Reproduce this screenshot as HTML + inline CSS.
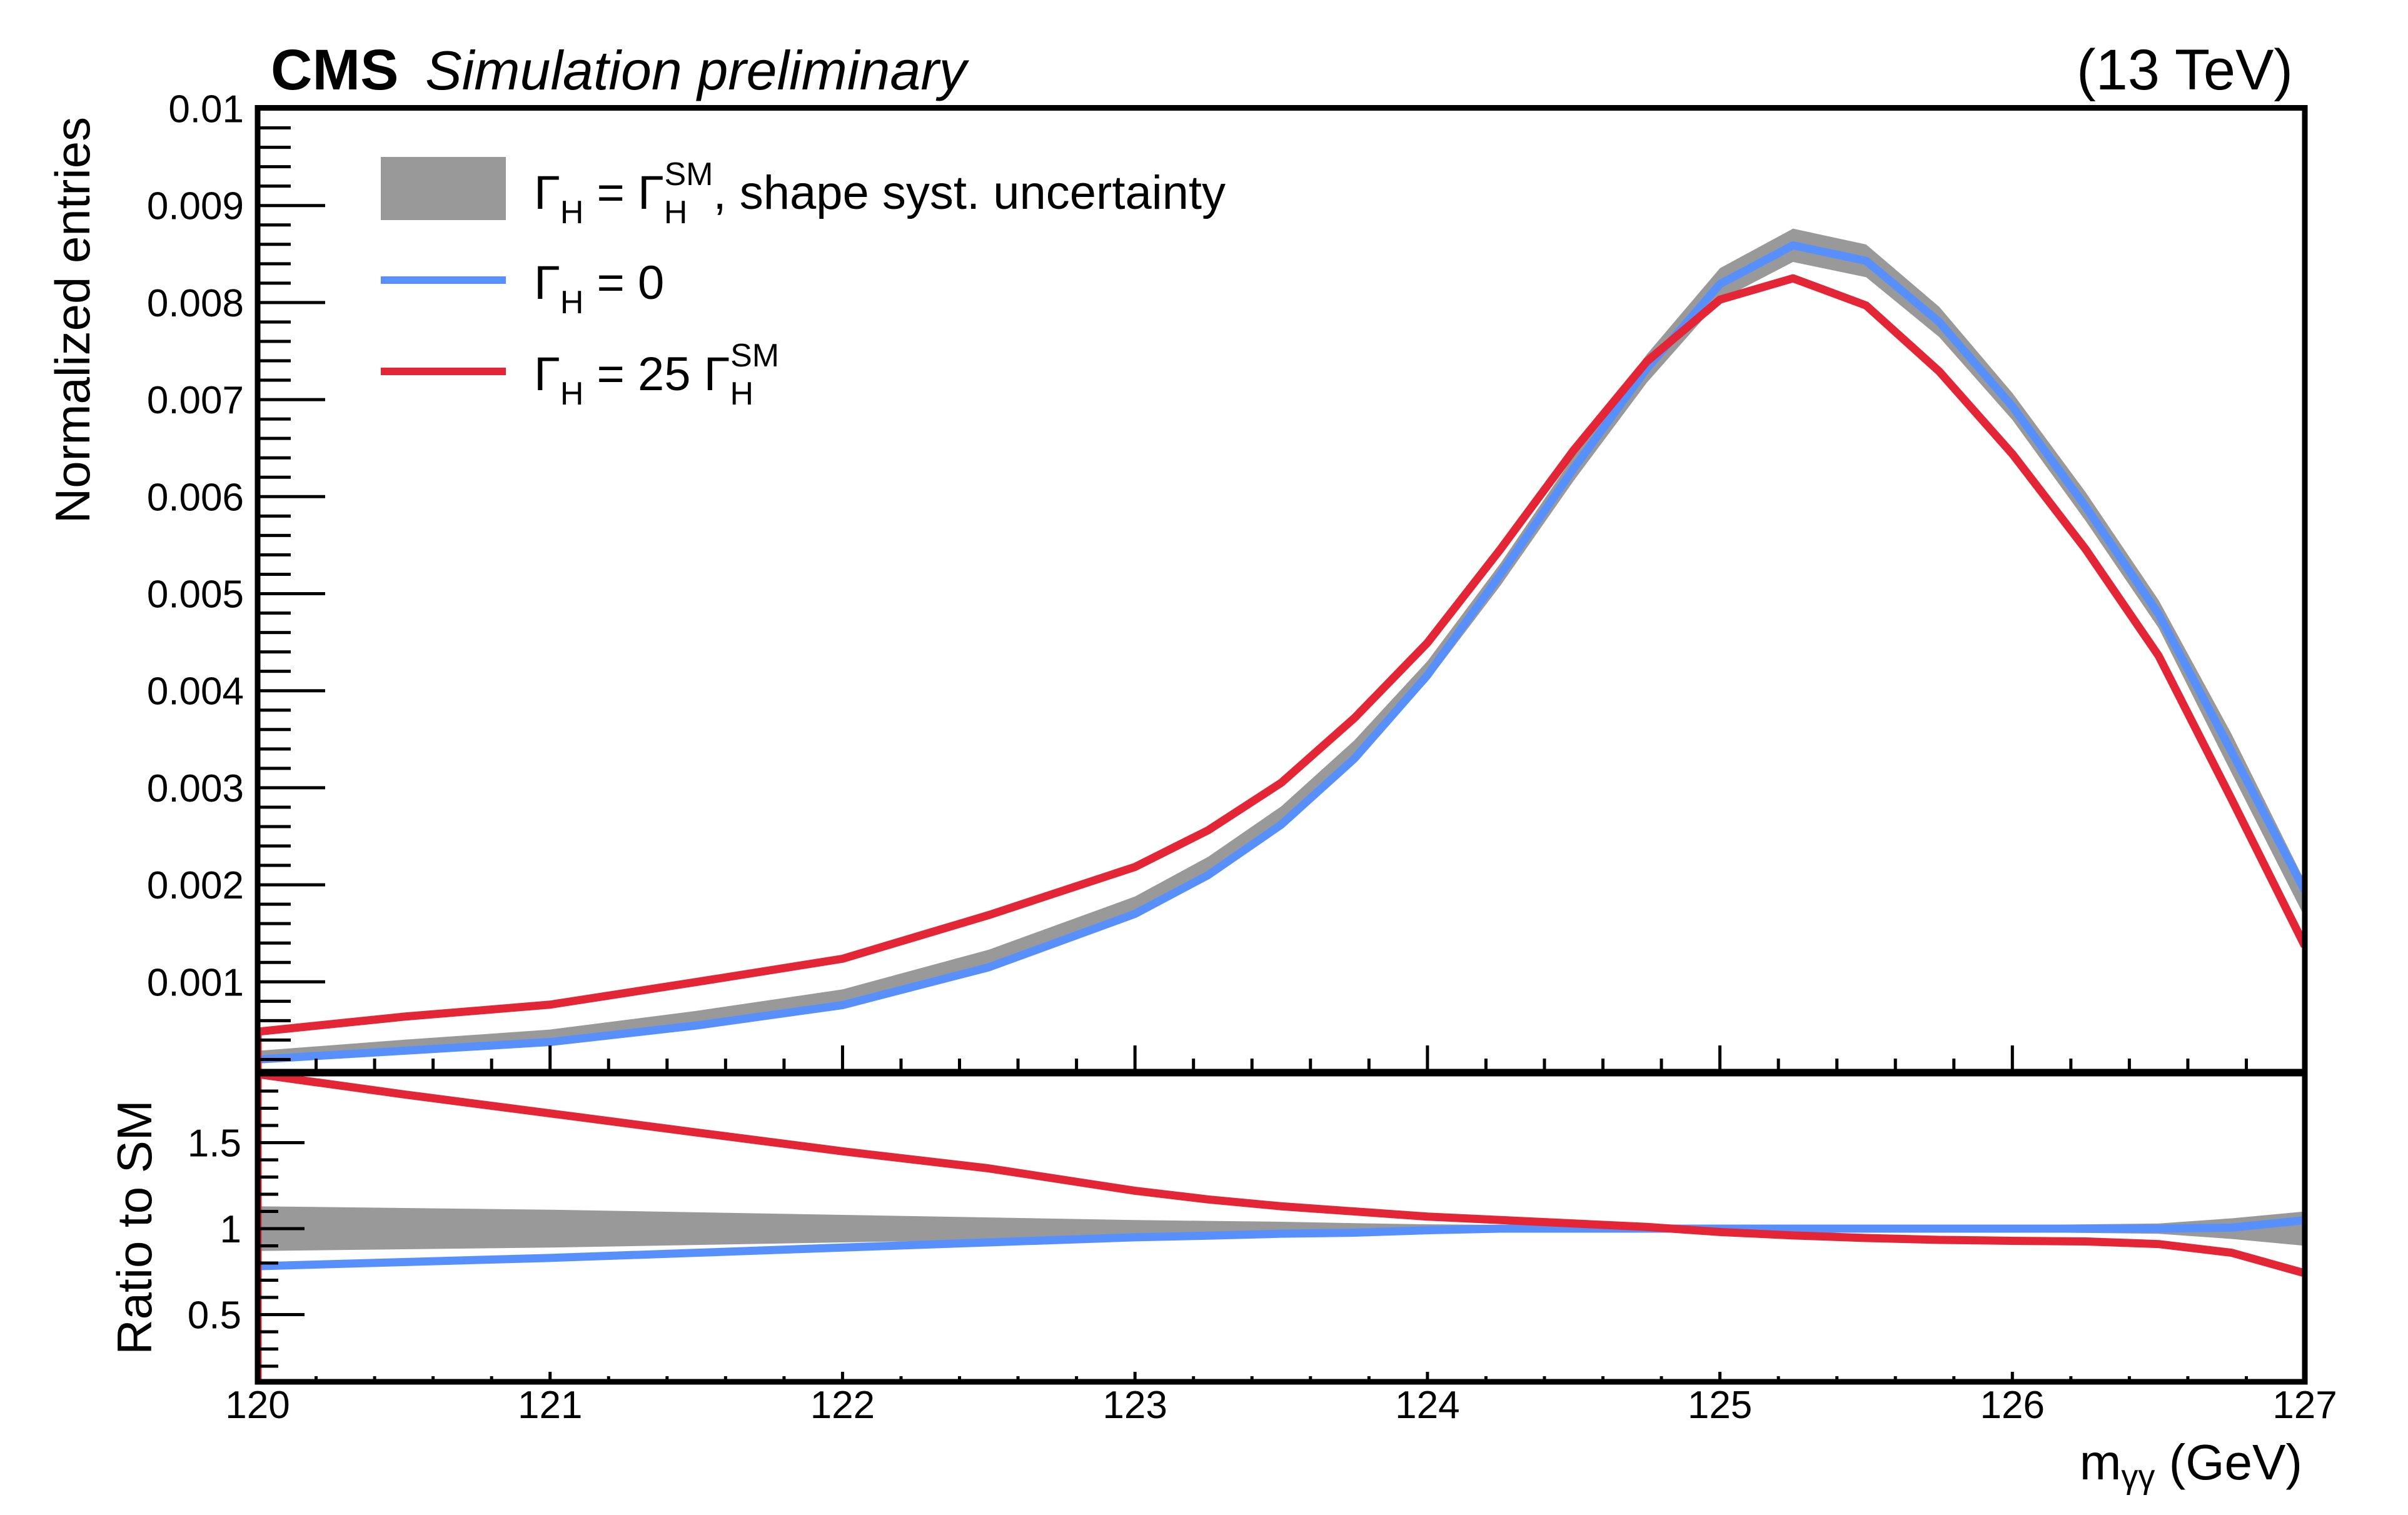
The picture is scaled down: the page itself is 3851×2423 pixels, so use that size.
<!DOCTYPE html>
<html><head><meta charset="utf-8"><style>
html,body{margin:0;padding:0;background:#fff;}
svg{display:block;font-family:"Liberation Sans",Arial,sans-serif;}
</style></head><body>
<svg id="chart" width="3851" height="2423" viewBox="0 0 3851 2423" xmlns="http://www.w3.org/2000/svg">
<rect width="3851" height="2423" fill="#fff"/>
<g id="mainMarks"></g>
<g id="ratioMarks"></g>
<g id="axes"></g>
<text x="433" y="143" font-size="92" font-weight="bold">CMS</text>
<text x="680" y="143" font-size="88" font-style="italic">Simulation preliminary</text>
<text x="3667" y="143" font-size="92" text-anchor="end">(13 TeV)</text>
<text transform="translate(143,512) rotate(-90)" font-size="78" text-anchor="middle">Normalized entries</text>
<text transform="translate(242,1963) rotate(-90)" font-size="78" text-anchor="middle">Ratio to SM</text>
<text x="3682" y="2366" font-size="80" text-anchor="end">m<tspan font-size="54" dy="14">γγ</tspan><tspan dy="-14"> (GeV)</tspan></text>
<g>
<rect x="609" y="251" width="200" height="101" fill="#999"/>
<text x="854" y="334" font-size="76">Γ<tspan font-size="52" dy="23">H</tspan><tspan dy="-23"> = Γ</tspan><tspan font-size="52" dy="23">H</tspan><tspan font-size="52" dx="-37" dy="-61">SM</tspan><tspan dy="38">, shape syst. uncertainty</tspan></text>
<line x1="609" y1="448" x2="809" y2="448" stroke="#5790fc" stroke-width="12"/>
<text x="854" y="478" font-size="76">Γ<tspan font-size="52" dy="23">H</tspan><tspan dy="-23"> = 0</tspan></text>
<line x1="609" y1="594" x2="809" y2="594" stroke="#e42536" stroke-width="12"/>
<text x="854" y="624" font-size="76">Γ<tspan font-size="52" dy="23">H</tspan><tspan dy="-23"> = 25 Γ</tspan><tspan font-size="52" dy="23">H</tspan><tspan font-size="52" dx="-37" dy="-61">SM</tspan></text>
</g>
</svg>
<script>
const masses = [120,120.5,121,121.5,122,122.5,123,123.25,123.5,123.75,124,124.25,124.5,124.75,125,125.25,125.5,125.75,126,126.25,126.5,126.75,127];
const smValues = [0.000256,0.00036,0.000458,0.00064,0.000854,0.00125,0.00179,0.00219,0.0027,0.00338,0.0042,0.0052,0.00629,0.00732,0.00819,0.00859,0.00843,0.0078,0.00693,0.0059,0.00479,0.00335,0.00185];
const bandRel = [0.13,0.12,0.11,0.095,0.08,0.065,0.05,0.045,0.04,0.032,0.025,0.022,0.02,0.02,0.02,0.02,0.02,0.02,0.02,0.025,0.03,0.06,0.1];
const zeroWidthValues = [0.0002,0.00029,0.00038,0.00055,0.00076,0.00115,0.0017,0.0021,0.00262,0.0033,0.00416,0.0052,0.00629,0.00732,0.00819,0.00859,0.00843,0.0078,0.00693,0.0059,0.00479,0.00337,0.00194];
const wideValues = [0.000486,0.000641,0.000765,0.000998,0.001238,0.001688,0.002184,0.002562,0.003051,0.003718,0.004494,0.00546,0.006479,0.007393,0.00803,0.00825,0.00797,0.00729,0.00644,0.00546,0.00436,0.00288,0.00137];
const mainTicks = [0.001,0.002,0.003,0.004,0.005,0.006,0.007,0.008,0.009,0.01];
const mainTickLabels = ["0.001","0.002","0.003","0.004","0.005","0.006","0.007","0.008","0.009","0.01"];
const ratioTicks = [0.5,1,1.5];
const ratioTickLabels = ["0.5","1","1.5"];
const xTicks = [120,121,122,123,124,125,126,127];

const NS="http://www.w3.org/2000/svg";
const X0=412,X1=3686,xmin=120,xmax=127;
const xs=m=>X0+(m-xmin)/(xmax-xmin)*(X1-X0);
const MT=172.5,MB=1714;
const ym=v=>1725.5-v/0.001*155.2;
const RT=1717,RB=2210;
const yr=r=>1965-(r-1)*275;
function mk(tag,attrs,parent){const e=document.createElementNS(NS,tag);for(const k in attrs)e.setAttribute(k,attrs[k]);parent.appendChild(e);return e;}
const mainG=document.getElementById('mainMarks');
const ratioG=document.getElementById('ratioMarks');
const axG=document.getElementById('axes');
function clip(id,y0,y1){const d=mk('clipPath',{id:id},document.getElementById('chart'));mk('rect',{x:X0,y:y0,width:X1-X0,height:y1-y0},d);}
clip('cm',MT,MB);clip('cr',RT,RB);
mainG.setAttribute('clip-path','url(#cm)');ratioG.setAttribute('clip-path','url(#cr)');
let up=masses.map((m,i)=>xs(m)+','+ym(smValues[i]*(1+bandRel[i])));
let lo=masses.map((m,i)=>xs(m)+','+ym(smValues[i]*(1-bandRel[i]))).reverse();
const band=mk('polygon',{points:up.concat(lo).join(' '),fill:'#999'},mainG);


const blue=mk('polyline',{points:masses.map((m,i)=>xs(m)+','+ym(zeroWidthValues[i])).join(' '),fill:'none',stroke:'#5790fc','stroke-width':13,'stroke-linejoin':'round'},mainG);


const red=mk('polyline',{points:[xs(xmin)+','+MB].concat(masses.map((m,i)=>xs(m)+','+ym(wideValues[i]))).join(' '),fill:'none',stroke:'#e42536','stroke-width':13,'stroke-linejoin':'round'},mainG);


up=masses.map((m,i)=>xs(m)+','+yr(1+bandRel[i]));
lo=masses.map((m,i)=>xs(m)+','+yr(1-bandRel[i])).reverse();
const rband=mk('polygon',{points:up.concat(lo).join(' '),fill:'#999'},ratioG);


const rblue=mk('polyline',{points:masses.map((m,i)=>xs(m)+','+yr(zeroWidthValues[i]/smValues[i])).join(' '),fill:'none',stroke:'#5790fc','stroke-width':13,'stroke-linejoin':'round'},ratioG);


const rred=mk('polyline',{points:[xs(xmin)+','+RB].concat(masses.map((m,i)=>xs(m)+','+yr(wideValues[i]/smValues[i]))).join(' '),fill:'none',stroke:'#e42536','stroke-width':13,'stroke-linejoin':'round'},ratioG);


const f1=mk('rect',{x:X0,y:MT,width:X1-X0,height:MB-MT,fill:'none',stroke:'#000','stroke-width':9},axG);


const f2=mk('rect',{x:X0,y:RT,width:X1-X0,height:RB-RT,fill:'none',stroke:'#000','stroke-width':9},axG);


for(let k=1;k<=50;k++){const v=k*0.0002;const y=ym(v);if(y<MT||y>MB)continue;const major=(k%5===0);
 const t=mk('line',{x1:X0,x2:X0+(major?108:53),y1:y,y2:y,stroke:'#000','stroke-width':5},axG);
 
 }
mainTicks.forEach((v,i)=>{const t=mk('text',{x:390,y:ym(v)+22,'font-size':62,'text-anchor':'end'},axG);t.textContent=mainTickLabels[i];
 
 });
for(let k=2;k<=18;k++){const v=k*0.1;const major=(k%5===0);
 const t=mk('line',{x1:X0,x2:X0+(major?75:33),y1:yr(v),y2:yr(v),stroke:'#000','stroke-width':5},axG);
 
 }
ratioTicks.forEach((v,i)=>{const t=mk('text',{x:386,y:yr(v)+22,'font-size':62,'text-anchor':'end'},axG);t.textContent=ratioTickLabels[i];
 
 });
for(let k=0;k<=35;k++){const m=120+k*0.2;const x=xs(m);const major=(k%5===0);
 const a=mk('line',{x1:x,x2:x,y1:MB,y2:MB-(major?42:21),stroke:'#000','stroke-width':5},axG);
 
 
 const b=mk('line',{x1:x,x2:x,y1:RB,y2:RB-(major?16:9),stroke:'#000','stroke-width':5},axG);
 
 }
xTicks.forEach(m=>{const t=mk('text',{x:xs(m),y:2268,'font-size':62,'text-anchor':'middle'},axG);t.textContent=String(m);
 
 });
</script>
</body></html>
